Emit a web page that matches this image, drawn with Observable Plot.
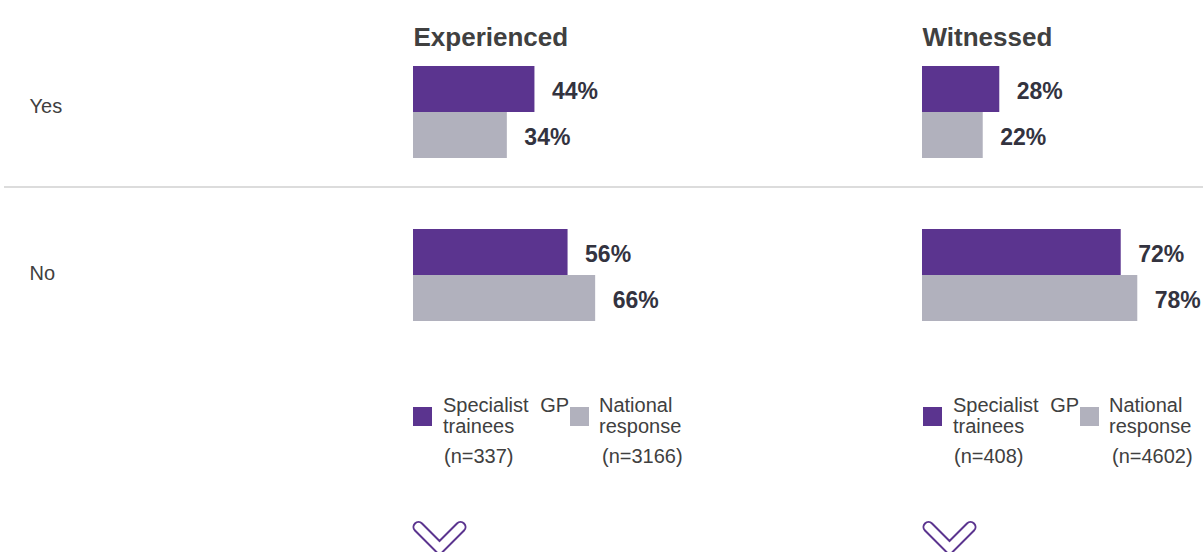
<!DOCTYPE html>
<html>
<head>
<meta charset="utf-8">
<script src="https://cdn.jsdelivr.net/npm/d3@7"></script>
<script src="https://cdn.jsdelivr.net/npm/@observablehq/plot@0.6"></script>
<style>
  html, body { margin: 0; padding: 0; background: #fff; }
  #wrap { position: relative; width: 1203px; height: 552px; font-family: "Liberation Sans", Arial, sans-serif; }
  #divider { position: absolute; left: 4px; top: 186px; width: 1199px; height: 2px; background: #dcdcdc; }
  svg { display: block; }
</style>
</head>
<body>
<div id="wrap"><div id="divider"></div></div>
<script>
// ---- data ----
const panels = ["Experienced", "Witnessed"];
const answers = ["Yes", "No"];
const series = ["Specialist GP trainees", "National response"];
const experiencedGP = [44, 56];        // Yes, No
const experiencedNational = [34, 66];  // Yes, No
const witnessedGP = [28, 72];          // Yes, No
const witnessedNational = [22, 78];    // Yes, No
const legendGPLines = ["Specialist GP", "trainees"];
const legendNationalLines = ["National", "response"];
const sampleGP = ["(n=337)", "(n=408)"];          // Experienced, Witnessed
const sampleNational = ["(n=3166)", "(n=4602)"];  // Experienced, Witnessed

const purple = "#5b348f";
const grey = "#b1b1bd";

const valuesBy = {
  Experienced: [experiencedGP, experiencedNational],
  Witnessed: [witnessedGP, witnessedNational]
};
const data = [];
for (const p of panels) {
  answers.forEach((a, ai) => {
    series.forEach((s, si) => {
      data.push({panel: p, answer: a, series: s, value: valuesBy[p][si][ai]});
    });
  });
}

const answerLabel = (ans, dy) => Plot.text([ans], {
  fy: d => d, fx: () => "Experienced", frameAnchor: "left", text: d => d,
  textAnchor: "start", dx: -384, dy, fontSize: 20, fill: "#404040"
});

const chart = Plot.plot({
  width: 1203,
  height: 380,
  marginLeft: 412,
  marginRight: 4.5,
  marginTop: 64,
  marginBottom: 58,
  style: {fontFamily: "'Liberation Sans', Arial, sans-serif", background: "transparent"},
  fx: {domain: panels, paddingInner: 0.4578, paddingOuter: 0, axis: null, label: null},
  fy: {domain: answers, paddingInner: 0.4268, paddingOuter: 0, axis: null, label: null},
  x: {domain: [0, 100], axis: null},
  y: {domain: series, padding: 0, axis: null},
  color: {domain: series, range: [purple, grey]},
  marks: [
    Plot.barX(data, {fx: "panel", fy: "answer", y: "series", x: "value", fill: "series", insetTop: 0, insetBottom: 0}),
    Plot.text(data, {
      fx: "panel", fy: "answer", y: "series", x: "value",
      text: d => d.value + "%", textAnchor: "start", dx: 17, dy: 2,
      fontSize: 23, fontWeight: "bold", fill: "#33333f"
    }),
    Plot.text(panels, {
      fx: d => d, fy: () => "Yes", frameAnchor: "top-left", text: d => d,
      textAnchor: "start", dy: -38, fontSize: 26, fontWeight: "bold", fill: "#404040"
    }),
    answerLabel(answers[0], -5),
    answerLabel(answers[1], -1)
  ]
});
document.getElementById("wrap").appendChild(chart);

// ---- legend and chevrons below the chart ----
const top0 = 380;
const leg = d3.select("#wrap").append("svg")
  .attr("width", 1203).attr("height", 172)
  .style("font-family", "'Liberation Sans', Arial, sans-serif");
const panelStart = [412, 922];
panels.forEach((p, i) => {
  const x0 = panelStart[i];
  const g = leg.append("g");
  g.append("rect").attr("x", x0 + 1).attr("y", 407 - top0).attr("width", 19).attr("height", 19).attr("fill", purple);
  g.append("rect").attr("x", x0 + 158).attr("y", 407 - top0).attr("width", 19).attr("height", 19).attr("fill", grey);
  legendGPLines.forEach((t, li) => {
    g.append("text").attr("x", x0 + 31).attr("y", 412 + li * 21 - top0)
      .attr("font-size", 20).attr("fill", "#404040").attr("word-spacing", li === 0 ? 6 : 0).text(t);
  });
  legendNationalLines.forEach((t, li) => {
    g.append("text").attr("x", x0 + 187).attr("y", 412 + li * 21 - top0)
      .attr("font-size", 20).attr("fill", "#404040").text(t);
  });
  g.append("text").attr("x", x0 + 32).attr("y", 463 - top0)
    .attr("font-size", 20).attr("fill", "#404040").text(sampleGP[i]);
  g.append("text").attr("x", x0 + 190).attr("y", 463 - top0)
    .attr("font-size", 20).attr("fill", "#404040").text(sampleNational[i]);
  const pts = [[x0 + 6.5, 527 - top0], [x0 + 27.5, 548 - top0], [x0 + 48.5, 527 - top0]];
  const line = d3.line();
  g.append("path").attr("d", line(pts)).attr("fill", "none").attr("stroke", purple)
    .attr("stroke-width", 12).attr("stroke-linecap", "round").attr("stroke-linejoin", "miter");
  g.append("path").attr("d", line(pts)).attr("fill", "none").attr("stroke", "#fff")
    .attr("stroke-width", 8).attr("stroke-linecap", "round").attr("stroke-linejoin", "miter");
});
</script>
</body>
</html>
